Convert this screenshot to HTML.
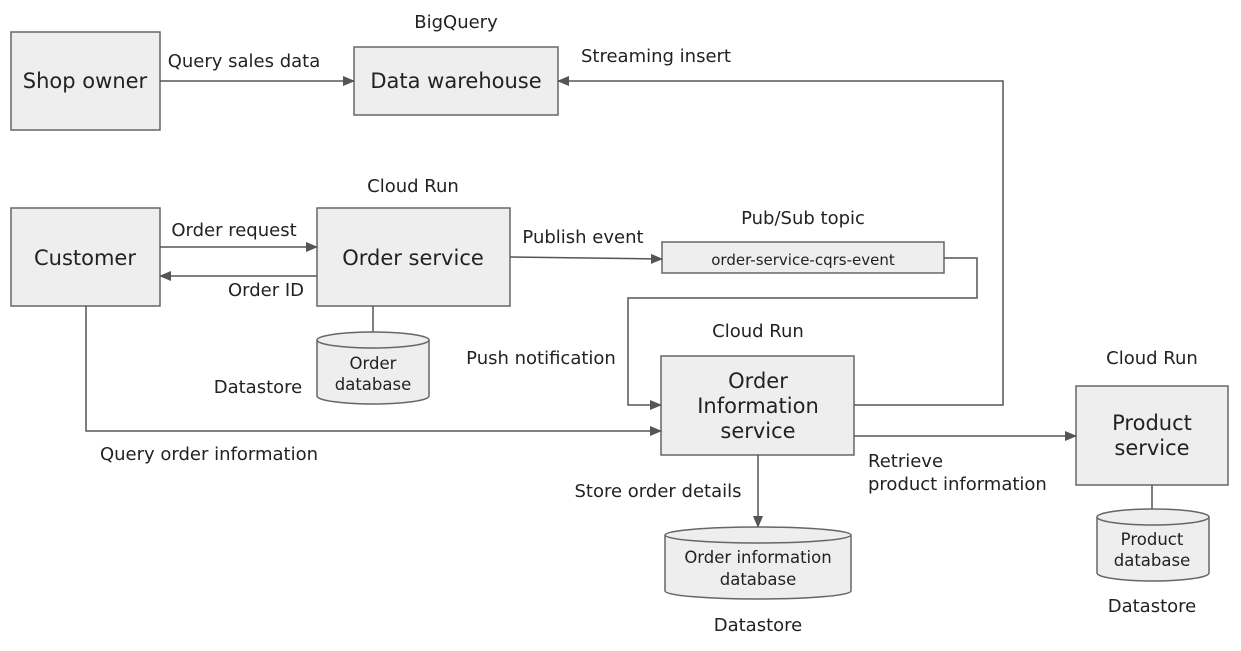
<!DOCTYPE html>
<html><head><meta charset="utf-8"><style>
html,body{margin:0;padding:0;background:#fff}
svg{display:block}
text{font-family:"DejaVu Sans","Liberation Sans",sans-serif;fill:#222}
</style></head><body>
<svg width="1241" height="651" viewBox="0 0 1241 651" xmlns="http://www.w3.org/2000/svg">
<defs>
<marker id="a" markerWidth="12" markerHeight="10" refX="11" refY="5" orient="auto" markerUnits="userSpaceOnUse">
<path d="M0,0 L12,5 L0,10 z" fill="#555"/></marker>
</defs>
<g fill="#eee" stroke="#666" stroke-width="1.5">
<rect x="11" y="32" width="149" height="98"/>
<rect x="354" y="47" width="204" height="68"/>
<rect x="11" y="208" width="149" height="98"/>
<rect x="317" y="208" width="193" height="98"/>
<rect x="662" y="242" width="282" height="31"/>
<rect x="661" y="356" width="193" height="99"/>
<rect x="1076" y="386" width="152" height="99"/>
</g>
<g fill="none" stroke="#555" stroke-width="1.5">
<line x1="160" y1="81" x2="354" y2="81" marker-end="url(#a)"/>
<polyline points="854,405 1003,405 1003,81 558,81" marker-end="url(#a)"/>
<line x1="160" y1="247" x2="317" y2="247" marker-end="url(#a)"/>
<line x1="317" y1="276" x2="160" y2="276" marker-end="url(#a)"/>
<line x1="373" y1="306" x2="373" y2="333"/>
<line x1="510" y1="257" x2="662" y2="259" marker-end="url(#a)"/>
<polyline points="944,258 977,258 977,298 628,298 628,405 661,405" marker-end="url(#a)"/>
<polyline points="86,306 86,431 661,431" marker-end="url(#a)"/>
<line x1="758" y1="455" x2="758" y2="527" marker-end="url(#a)"/>
<line x1="854" y1="436" x2="1076" y2="436" marker-end="url(#a)"/>
<line x1="1152" y1="485" x2="1152" y2="510"/>
</g>
<g fill="#eee" stroke="#666" stroke-width="1.5">
<path d="M317,340 v56 a56,8 0 0 0 112,0 v-56"/>
<ellipse cx="373" cy="340" rx="56" ry="8"/>
<path d="M665,535 v56 a93,8 0 0 0 186,0 v-56"/>
<ellipse cx="758" cy="535" rx="93" ry="8"/>
<path d="M1097,517 v56 a56,8 0 0 0 112,0 v-56"/>
<ellipse cx="1153" cy="517" rx="56" ry="8"/>
</g>
<g text-anchor="middle" font-size="21">
<text x="85" y="88">Shop owner</text>
<text x="456" y="88">Data warehouse</text>
<text x="85" y="265">Customer</text>
<text x="413" y="265">Order service</text>
<text x="758" y="388">Order</text>
<text x="758" y="413">Information</text>
<text x="758" y="438">service</text>
<text x="1152" y="430">Product</text>
<text x="1152" y="455">service</text>
</g>
<g text-anchor="middle" font-size="18">
<text x="456" y="28">BigQuery</text>
<text x="244" y="67">Query sales data</text>
<text x="656" y="62">Streaming insert</text>
<text x="413" y="192">Cloud Run</text>
<text x="234" y="236">Order request</text>
<text x="266" y="296">Order ID</text>
<text x="258" y="393">Datastore</text>
<text x="583" y="243">Publish event</text>
<text x="803" y="224">Pub/Sub topic</text>
<text x="541" y="364">Push notification</text>
<text x="758" y="337">Cloud Run</text>
<text x="209" y="460">Query order information</text>
<text x="658" y="497">Store order details</text>
<text x="758" y="631">Datastore</text>
<text x="1152" y="364">Cloud Run</text>
<text x="1152" y="612">Datastore</text>
</g>
<g text-anchor="start" font-size="18">
<text x="868" y="467">Retrieve</text>
<text x="868" y="490">product information</text>
</g>
<g text-anchor="middle" font-size="16.5">
<text x="373" y="369">Order</text>
<text x="373" y="390">database</text>
<text x="758" y="563">Order information</text>
<text x="758" y="585">database</text>
<text x="1152" y="545">Product</text>
<text x="1152" y="566">database</text>
</g>
<text x="803" y="265" text-anchor="middle" font-size="15" fill="#333">order-service-cqrs-event</text>
</svg>
</body></html>
